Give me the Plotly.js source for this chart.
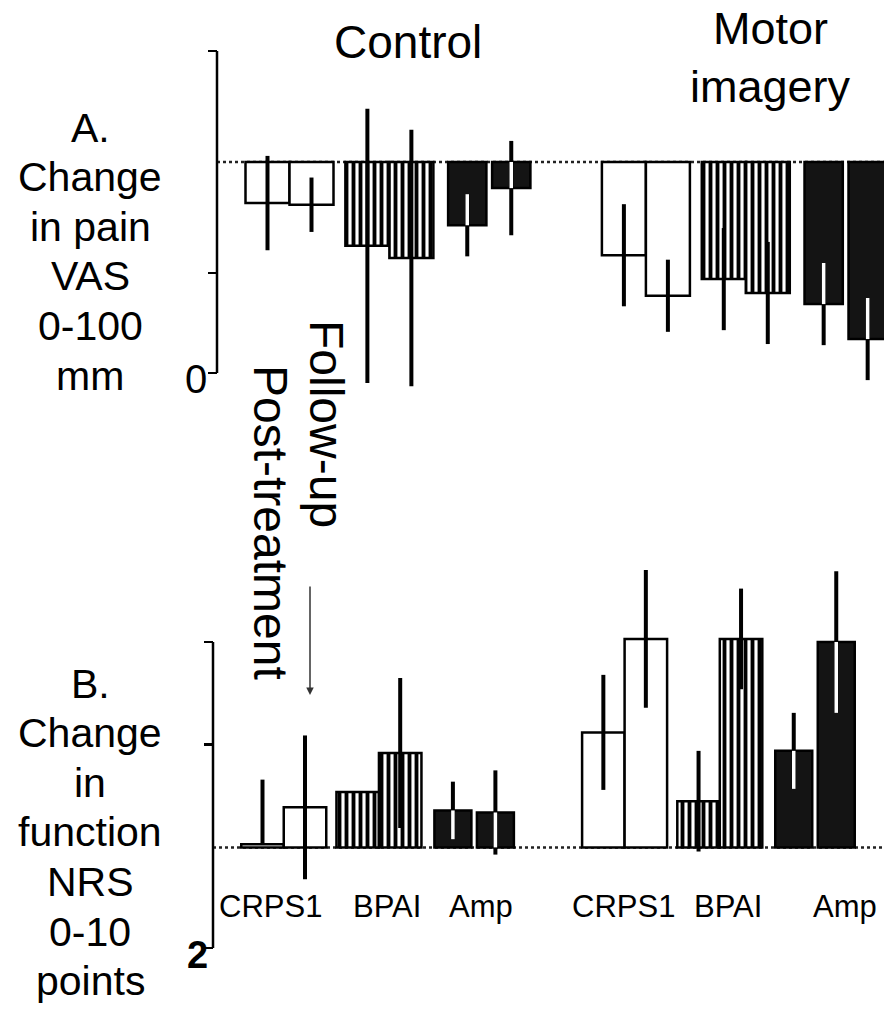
<!DOCTYPE html>
<html>
<head>
<meta charset="utf-8">
<script src="https://cdn.plot.ly/plotly-3.0.1.min.js"></script>
<style>html,body{margin:0;padding:0;background:#fff;}#chart{width:884px;height:1016px;}</style>
</head>
<body>
<div id="chart"></div>
<script>
// ---------- data ----------
const conditions = ['CRPS1', 'BPAI', 'Amp'];
const groups = ['Control', 'Motor imagery'];
const timepoints = ['Post-treatment', 'Follow-up'];

// Panel A: change in pain (VAS), order: [control post, control follow-up, motor post, motor follow-up]
const painCRPS1 = [-7.4, -7.7, -16.8, -24.1];
const painBPAI  = [-15.1, -17.3, -21.1, -23.6];
const painAmp   = [-11.4, -4.7, -25.6, -31.9];
const painErrCRPS1 = [8.5, 4.9, 9.2, 6.5];
const painErrBPAI  = [24.7, 23.1, 9.2, 9.2];
const painErrAmp   = [5.6, 8.5, 7.4, 7.4];

// Panel B: change in function (NRS)
const funcCRPS1 = [0.03, 0.39, 1.12, 2.03];
const funcBPAI  = [0.54, 0.92, 0.45, 2.03];
const funcAmp   = [0.36, 0.34, 0.94, 2.00];
const funcErrUpCRPS1   = [0.63, 0.70, 0.56, 0.67];
const funcErrDownCRPS1 = [0.00, 0.70, 0.56, 0.67];
const funcErrBPAI = [0.00, 0.73, 0.49, 0.49];
const funcErrAmp  = [0.28, 0.41, 0.37, 0.69];

// ticks (top, middle, bottom) and the label shown at the bottom tick
const painTickVals = [20, -20, -38.02];
const painTickLabel = '0';
const funcTickVals = [2, 1, -0.98];
const funcTickLabel = '2';

const labelA = ['A.', 'Change', 'in pain', 'VAS', '0-100', 'mm'];
const labelB = ['B.', 'Change', 'in', 'function', 'NRS', '0-10', 'points'];

// ---------- layout constants ----------
const W = 884, H = 1016;
const FONT = 'Liberation Sans, Arial, Helvetica, sans-serif';
const panels = {
  A: {unitPx: 44, originPx: 267.5, groupGap: 2.27, studyGap: 8.1, axisPx: 217, zeroPx: 162, pxPerUnit: 5.55, domTop: 20, domBottom: 410},
  B: {unitPx: 42.5, originPx: 262.5, groupGap: 2.24, studyGap: 8.02, axisPx: 213, zeroPx: 847.4, pxPerUnit: 102.7, domTop: 540, domBottom: 975}
};
const barWidth = {CRPS1: 1, BPAI: 1, Amp: 0.87};

function xPositions(p, ci) {
  const out = [];
  for (let g = 0; g < groups.length; g++)
    for (let t = 0; t < timepoints.length; t++)
      out.push(g * p.studyGap + ci * p.groupGap + t);
  return out;
}
function markerFor(cond) {
  const line = {color: '#000', width: 2.5};
  if (cond === 'CRPS1') return {color: '#fff', line};
  if (cond === 'BPAI') return {color: '#fff', line, pattern: {shape: '|', size: 7, solidity: 0.55, fgcolor: '#000', bgcolor: '#fff', fillmode: 'replace'}};
  return {color: '#141414', line};
}

const traces = [];
function addPanel(p, xa, ya, vals, errUp, errDown, negative) {
  conditions.forEach((cond, ci) => {
    const xs = xPositions(p, ci);
    traces.push({
      type: 'bar', x: xs, y: vals[ci], width: xs.map(() => barWidth[cond]),
      xaxis: xa, yaxis: ya, marker: markerFor(cond), cliponaxis: false, hoverinfo: 'skip',
      error_y: {type: 'data', symmetric: false, array: errUp[ci], arrayminus: errDown[ci], color: '#000', thickness: 4, width: 0}
    });
    if (cond === 'Amp') {
      const inside = vals[ci].map((v, i) => Math.min(Math.abs(v), negative ? errUp[ci][i] : errDown[ci][i]));
      const zeros = vals[ci].map(() => 0);
      traces.push({
        type: 'scatter', mode: 'markers', x: xs, y: vals[ci], xaxis: xa, yaxis: ya,
        marker: {size: 1, color: 'rgba(0,0,0,0)'}, hoverinfo: 'skip',
        error_y: {type: 'data', symmetric: false, array: negative ? inside : zeros, arrayminus: negative ? zeros : inside, color: '#fff', thickness: 3.5, width: 0}
      });
    }
  });
}
addPanel(panels.A, 'x', 'y', [painCRPS1, painBPAI, painAmp],
  [painErrCRPS1, painErrBPAI, painErrAmp], [painErrCRPS1, painErrBPAI, painErrAmp], true);
addPanel(panels.B, 'x2', 'y2', [funcCRPS1, funcBPAI, funcAmp],
  [funcErrUpCRPS1, funcErrBPAI, funcErrAmp], [funcErrDownCRPS1, funcErrBPAI, funcErrAmp], false);

function xRange(p) { return [(0 - p.originPx) / p.unitPx, (W - p.originPx) / p.unitPx]; }
function yAxis(p, vals) {
  return {domain: [1 - p.domBottom / H, 1 - p.domTop / H],
    range: [-(p.domBottom - p.zeroPx) / p.pxPerUnit, (p.zeroPx - p.domTop) / p.pxPerUnit],
    anchor: 'free', position: p.axisPx / W, showline: false,
    ticks: 'outside', ticklen: 9, tickwidth: 2.5, tickcolor: '#000',
    tickmode: 'array', tickvals: vals, showticklabels: false,
    showgrid: false, zeroline: false, fixedrange: true};
}

const ann = [];
const py = v => 1 - v / H, pxp = v => v / W;
function txt(text, x, y, size, extra) {
  ann.push(Object.assign({text, x: pxp(x), y: py(y), xref: 'paper', yref: 'paper', showarrow: false,
    xanchor: 'center', yanchor: 'middle', font: {size, color: '#000', family: FONT}}, extra || {}));
}
txt(groups[0], 408, 42, 46);
txt('Motor', 770, 29, 45);
txt('imagery', 770, 87, 45);
labelA.forEach((s, i) => txt(s, 90, 127.6 + 49.6 * i, 41));
labelB.forEach((s, i) => txt(s, 90, 683.6 + 49.6 * i, 41));
const groupLabelPx = [[270, 387, 481], [623, 728, 845]];
groupLabelPx.forEach(row => row.forEach((x, i) => txt(conditions[i], x, 906, 31)));
txt(timepoints[1], 326, 424, 48, {textangle: 90});
txt(timepoints[0], 271, 522, 48, {textangle: 90});
// bottom-tick labels
ann.push({text: painTickLabel, x: 196 / W, xref: 'paper', yref: 'y', y: painTickVals[2], showarrow: false,
  font: {size: 40, color: '#000', family: FONT}, xanchor: 'center', yanchor: 'middle', yshift: -6});
ann.push({text: '<b>' + funcTickLabel + '</b>', x: 197 / W, xref: 'paper', yref: 'y2', y: funcTickVals[2], showarrow: false,
  font: {size: 38, color: '#000', family: FONT}, xanchor: 'center', yanchor: 'middle', yshift: -7});
ann.push({text: '', x: pxp(310), y: py(695), xref: 'paper', yref: 'paper', showarrow: true,
  ax: 0, ay: -110, arrowhead: 2, arrowsize: 1, arrowwidth: 1.5, arrowcolor: '#333', standoff: 0});

const shapes = [
  // axis spines between the end ticks
  {type: 'line', xref: 'paper', yref: 'y', x0: panels.A.axisPx / W, x1: panels.A.axisPx / W, y0: painTickVals[2], y1: painTickVals[0], line: {color: '#000', width: 2.5}},
  {type: 'line', xref: 'paper', yref: 'y2', x0: panels.B.axisPx / W, x1: panels.B.axisPx / W, y0: funcTickVals[2], y1: funcTickVals[0], line: {color: '#000', width: 2.5}},
  // dotted zero lines
  {type: 'line', xref: 'paper', yref: 'y', x0: panels.A.axisPx / W, x1: 1, y0: 0, y1: 0, layer: 'below', line: {color: '#222', width: 2.5, dash: 'dot'}},
  {type: 'line', xref: 'paper', yref: 'y2', x0: panels.B.axisPx / W, x1: 1, y0: 0, y1: 0, layer: 'below', line: {color: '#222', width: 2.5, dash: 'dot'}}
];

const layout = {
  width: W, height: H, margin: {l: 0, r: 0, t: 0, b: 0},
  paper_bgcolor: '#fff', plot_bgcolor: 'rgba(0,0,0,0)', showlegend: false, barmode: 'overlay',
  font: {family: FONT, color: '#000'},
  xaxis: {domain: [0, 1], range: xRange(panels.A), anchor: 'y', visible: false, fixedrange: true},
  xaxis2: {domain: [0, 1], range: xRange(panels.B), anchor: 'y2', visible: false, fixedrange: true},
  yaxis: yAxis(panels.A, painTickVals),
  yaxis2: yAxis(panels.B, funcTickVals),
  annotations: ann, shapes
};
Plotly.newPlot('chart', traces, layout, {staticPlot: true, displayModeBar: false});
</script>
</body>
</html>
